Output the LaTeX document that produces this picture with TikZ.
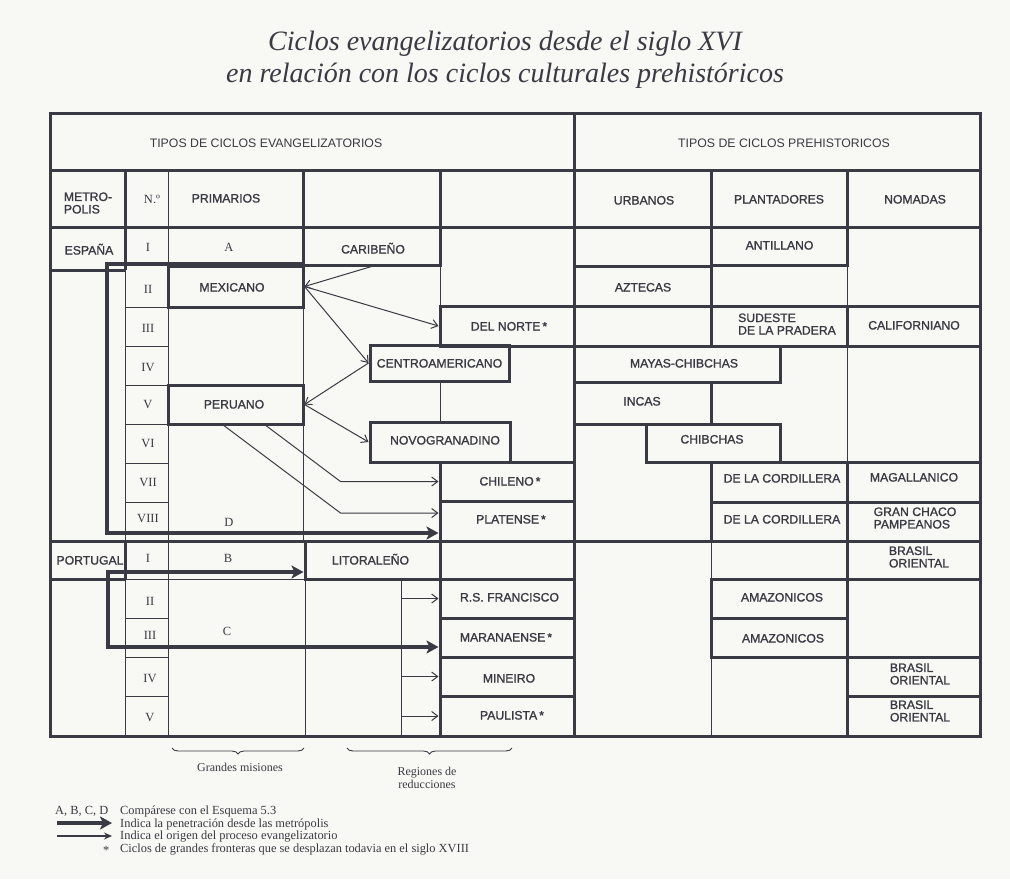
\documentclass[tikz,border=0pt]{standalone}
\usepackage{fontspec}
\setmainfont{Liberation Serif}
\newfontfamily\tabfont{Liberation Sans}
\newfontfamily\tabfontb[FakeBold=1.3]{Liberation Sans}
\usetikzlibrary{arrows.meta,calc,decorations.pathreplacing}
\definecolor{ink}{RGB}{58,58,68}
\definecolor{paper}{RGB}{248,248,244}
\tikzset{
  thk/.style={draw=ink, line width=3pt},
  thn/.style={draw=ink, line width=1pt},
  bx/.style={draw=ink, line width=3pt, inner sep=0pt},
  hdr/.style={inner sep=0pt, text=ink, font=\tabfont\fontsize{12.3}{12.5}\selectfont, text height=9pt, text depth=0pt},
  lbl/.style={inner sep=0pt, text=ink, font=\tabfontb\fontsize{12.2}{12.5}\selectfont, text height=9pt, text depth=0pt},
  lbltwo/.style={inner sep=0pt, text=ink, font=\tabfontb\fontsize{12.2}{12.5}\selectfont, align=left},
  rom/.style={inner sep=0pt, text=ink, font=\fontsize{12.5}{13}\selectfont, text height=8pt, text depth=0pt},
  big/.style={draw=ink, line width=4pt, -{Stealth[length=12pt,width=13pt,inset=3pt]}},
  sml/.style={draw=ink, line width=1pt, -{Straight Barb[length=6pt,width=9pt]}},
  leg/.style={inner sep=0pt, text=ink, font=\fontsize{12.4}{13}\selectfont, anchor=base west},
  ttl/.style={inner sep=0pt, text=ink, font=\itshape\fontsize{28}{32}\selectfont, anchor=base},
  brc/.style={draw=ink, line width=0.9pt, decorate, decoration={brace, mirror, amplitude=6pt}},
  bracetext/.style={inner sep=0pt, text=ink, font=\fontsize{12}{13}\selectfont, align=center}
}
\begin{document}
\begin{tikzpicture}[x=1pt,y=-1pt]
\fill[paper] (0,0) rectangle (1010,879);
\useasboundingbox (0,0) rectangle (1010,879);

% title
\node[ttl] (t1) at (505,50) {Ciclos evangelizatorios desde el siglo XVI};
\node[ttl] (t2) at (505,82) {en relación con los ciclos culturales prehistóricos};

% thin lines
\draw[thn] (168,170) -- (168,264);
\draw[thn] (125,270) -- (125,541);
\draw[thn] (168,307) -- (168,385) (168,424) -- (168,541);
\foreach \yy in {307,346,385,424,463,502} \draw[thn] (125,\yy) -- (168,\yy);
\draw[thn] (303,307) -- (303,385) (303,424) -- (303,541);
\draw[thn] (440,265) -- (440,306) (440,381) -- (440,422);
\draw[thn] (847,265) -- (847,306) (847,346) -- (847,462);
\draw[thn] (125,579) -- (125,736);
\draw[thn] (168,541) -- (168,736);
\foreach \yy in {618,657,696} \draw[thn] (125,\yy) -- (168,\yy);
\draw[thn] (125,579) -- (305,579);
\draw[thn] (305,579) -- (305,736);
\draw[thn] (401,579) -- (401,736);
\draw[thn] (711,541) -- (711,579) (711,657) -- (711,736);

% thick lines
\draw[thk] (50,113) rectangle (980,736);
\draw[thk] (50,170) -- (980,170);
\draw[thk] (50,227) -- (980,227);
\draw[thk] (574,113) -- (574,736);
\draw[thk] (125,170) -- (125,270);
\draw[thk] (303,170) -- (303,227);
\draw[thk] (440,170) -- (440,227);
\draw[thk] (711,170) -- (711,227);
\draw[thk] (847,170) -- (847,227);
\draw[thk] (50,270) -- (125,270);
\draw[thk] (50,541) -- (980,541);
\draw[thk] (125,541) -- (125,579);
\draw[thk] (50,579) -- (125,579);

% boxes, left half
\node[bx, minimum width=137pt, minimum height=38pt] (caribe) at (371.5,246) {};
\node[bx, minimum width=135pt, minimum height=41pt] (mex) at (235.5,286.5) {};
\node[bx, minimum width=134pt, minimum height=40pt] (norte) at (507,326) {};
\node[bx, minimum width=139pt, minimum height=36pt] (centro) at (439.5,363) {};
\node[bx, minimum width=135pt, minimum height=39pt] (peru) at (235.5,404.5) {};
\node[bx, minimum width=140pt, minimum height=40pt] (novo) at (440,442) {};
\node[bx, minimum width=134pt, minimum height=39pt] (chile) at (507,481.5) {};
\node[bx, minimum width=134pt, minimum height=40pt] (plat) at (507,521) {};
\node[bx, minimum width=135pt, minimum height=38pt] (lito) at (372.5,560) {};
\node[bx, minimum width=134pt, minimum height=39pt] (rsf) at (507,598.5) {};
\node[bx, minimum width=134pt, minimum height=39pt] (mara) at (507,637.5) {};
\node[bx, minimum width=134pt, minimum height=39pt] (mine) at (507,676.5) {};
\node[bx, minimum width=134pt, minimum height=40pt] (paul) at (507,716) {};

% boxes, right half
\node[bx, minimum width=136pt, minimum height=38pt] (antil) at (779,246) {};
\node[bx, minimum width=137pt, minimum height=40pt] (aztec) at (642.5,286) {};
\node[bx, minimum width=136pt, minimum height=40pt] (sud) at (779,326) {};
\node[bx, minimum width=133pt, minimum height=40pt] (calif) at (913.5,326) {};
\node[bx, minimum width=206pt, minimum height=36pt] (maya) at (677,364) {};
\node[bx, minimum width=137pt, minimum height=42pt] (incas) at (642.5,403) {};
\node[bx, minimum width=134pt, minimum height=38pt] (chib) at (713,443) {};
\node[bx, minimum width=136pt, minimum height=40pt] (cord1) at (779,482) {};
\node[bx, minimum width=136pt, minimum height=39pt] (cord2) at (779,521.5) {};
\node[bx, minimum width=133pt, minimum height=40pt] (magal) at (913.5,482) {};
\node[bx, minimum width=133pt, minimum height=39pt] (gran) at (913.5,521.5) {};
\node[bx, minimum width=133pt, minimum height=38pt] (bras1) at (913.5,560) {};
\node[bx, minimum width=136pt, minimum height=39pt] (amaz1) at (779,598.5) {};
\node[bx, minimum width=136pt, minimum height=39pt] (amaz2) at (779,637.5) {};
\node[bx, minimum width=133pt, minimum height=39pt] (bras2) at (913.5,676.5) {};
\node[bx, minimum width=133pt, minimum height=40pt] (bras3) at (913.5,716) {};

% labels
\node[hdr] (hL) at (266,143) {TIPOS DE CICLOS EVANGELIZATORIOS};
\node[hdr] (hR) at (784,143) {TIPOS DE CICLOS PREHISTORICOS};
\node[lbltwo] (metro) at (88,203) {METRO-\\POLIS};
\node[rom] (num) at (152,199) {N.º};
\node[lbl] (prim) at (226,198) {PRIMARIOS};
\node[lbl] (urb) at (644,200) {URBANOS};
\node[lbl] (plant) at (779,199) {PLANTADORES};
\node[lbl] (nom) at (915,199) {NOMADAS};

\node[lbl] (esp) at (89,250) {ESPAÑA};
\node[rom] (n1) at (148,247) {I};
\node[rom] (lA) at (229,247) {A};
\node[lbl] (caribL) at (373,249) {CARIBEÑO};
\node[lbl] (antilL) at (779.5,245) {ANTILLANO};

\node[rom] (n2) at (148,289) {II};
\node[lbl] (mexL) at (232,287) {MEXICANO};
\node[lbl] (aztL) at (643,287) {AZTECAS};

\node[rom] (n3) at (148,328) {III};
\node[lbl] (norteL) at (509,326) {DEL NORTE\,*};
\node[lbltwo] (sudL) at (787,324) {SUDESTE\\DE LA PRADERA};
\node[lbl] (calL) at (914,325) {CALIFORNIANO};

\node[rom] (n4) at (148,367) {IV};
\node[lbl] (centroL) at (439.5,363) {CENTROAMERICANO};
\node[lbl] (mayaL) at (684,363) {MAYAS-CHIBCHAS};

\node[rom] (n5) at (148,404) {V};
\node[lbl] (peruL) at (234,404) {PERUANO};
\node[lbl] (incasL) at (642,401) {INCAS};

\node[rom] (n6) at (148,443) {VI};
\node[lbl] (novoL) at (445,440) {NOVOGRANADINO};
\node[lbl] (chibL) at (712,439) {CHIBCHAS};

\node[rom] (n7) at (148,482) {VII};
\node[lbl] (chileL) at (510,481) {CHILENO\,*};
\node[lbl] (cord1L) at (782,478) {DE LA CORDILLERA};
\node[lbl] (magL) at (914,477) {MAGALLANICO};

\node[rom] (n8) at (148,518) {VIII};
\node[rom] (lD) at (229,522) {D};
\node[lbl] (platL) at (511,519) {PLATENSE\,*};
\node[lbl] (cord2L) at (782,519) {DE LA CORDILLERA};
\node[lbltwo] (granL) at (915,518) {GRAN CHACO\\PAMPEANOS};

\node[lbl] (portL) at (90,560) {PORTUGAL};
\node[rom] (p1) at (148,558) {I};
\node[rom] (lB) at (228,558) {B};
\node[lbl] (litoL) at (370.5,560) {LITORALEÑO};
\node[lbltwo] (bras1L) at (919,557) {BRASIL\\ORIENTAL};

\node[rom] (p2) at (150,601) {II};
\node[lbl] (rsfL) at (509.5,597) {R.S. FRANCISCO};
\node[lbl] (amaz1L) at (782,597) {AMAZONICOS};

\node[rom] (p3) at (150,635) {III};
\node[rom] (lC) at (227,631) {C};
\node[lbl] (maraL) at (506,637) {MARANAENSE\,*};
\node[lbl] (amaz2L) at (783,638) {AMAZONICOS};

\node[rom] (p4) at (150,678) {IV};
\node[lbl] (mineL) at (509,678) {MINEIRO};
\node[lbltwo] (bras2L) at (920,674) {BRASIL\\ORIENTAL};

\node[rom] (p5) at (150,717) {V};
\node[lbl] (paulL) at (512,715) {PAULISTA\,*};
\node[lbltwo] (bras3L) at (920,711) {BRASIL\\ORIENTAL};

% thin arrows (origin of the evangelizing process)
\draw[sml] (caribe.south) -- (mex.east);
\draw[sml] (mex.east) -- (norte.west);
\draw[sml] (mex.east) -- (centro.west);
\draw[sml] (centro.west) -- (peru.east);
\draw[sml] (peru.east) -- (novo.west);
\coordinate (pc) at ($(peru.south west)!0.72!(peru.south east)$);
\coordinate (pp) at ($(peru.south west)!0.415!(peru.south east)$);
\draw[sml] (pc) -- ($(chile.west)+(-98,0)$) -- (chile.west);
\draw[sml] (pp) -- ($(plat.west)+(-98,-8)$) -- ($(plat.west)+(0,-8)$);
\coordinate (xr) at (401,600);
\draw[sml] (rsf.west -| xr) -- (rsf.west);
\draw[sml] (mine.west -| xr) -- (mine.west);
\draw[sml] (paul.west -| xr) -- (paul.west);

% thick arrows (penetration from the metropolis)
\coordinate (d0) at (303,264);
\coordinate (d1) at (107,264);
\coordinate (d2) at (107,533);
\draw[big] (d0) -- (d1) -- (d2) -- (d2 -| plat.west);
\coordinate (bc) at (108,572);
\coordinate (c0) at (108,570);
\coordinate (c1) at (108,647);
\draw[big] (bc) -- (bc -| lito.west);
\draw[big] (c0) -- (c1) -- (c1 -| mara.west);

% braces
\coordinate (b1a) at (172,748);
\coordinate (b1b) at (304,748);
\draw[brc] (b1a) -- (b1b);
\node[bracetext] (gm) at (240,767) {Grandes misiones};
\coordinate (b2a) at (347,748);
\coordinate (b2b) at (512,748);
\draw[brc] (b2a) -- (b2b);
\node[bracetext] (rr) at (427,778) {Regiones de\\reducciones};

% legend
\node[leg] (lgA) at (55,814) {A, B, C, D};
\node[leg] (lg1) at (120,814) {Compárese con el Esquema 5.3};
\coordinate (l1a) at (57,823);
\coordinate (l1b) at (112,823);
\draw[big, line width=3.5pt] (l1a) -- (l1b);
\node[leg] (lg2) at (120,827) {Indica la penetración desde las metrópolis};
\coordinate (l2a) at (57,836);
\coordinate (l2b) at (112,836);
\draw[draw=ink, line width=1.3pt, -{Stealth[length=8pt,width=7pt]}] (l2a) -- (l2b);
\node[leg] (lg3) at (120,839) {Indica el origen del proceso evangelizatorio};
\node[leg] (lgS) at (103,854) {*};
\node[leg] (lg4) at (120,852) {Ciclos de grandes fronteras que se desplazan todavia en el siglo XVIII};
\end{tikzpicture}
\end{document}
